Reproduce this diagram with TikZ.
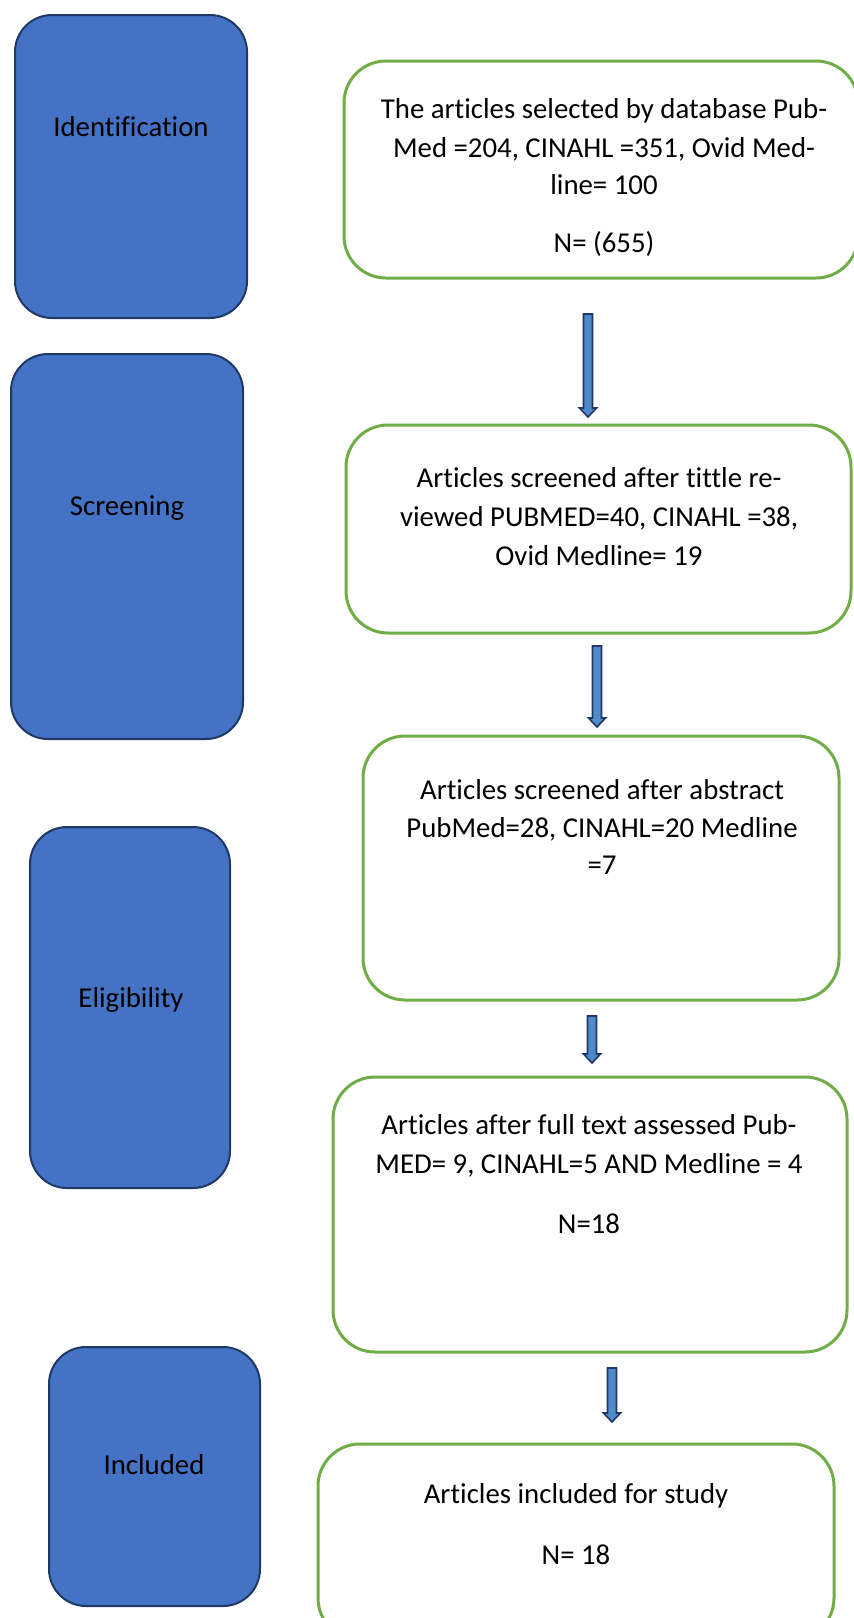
\documentclass[tikz,border=0pt]{standalone}
\usepackage{fontspec}
\setmainfont{Carlito}[Ligatures={CommonOff}]
\usetikzlibrary{calc}
\definecolor{phasefill}{HTML}{4472C4}
\definecolor{phaseline}{HTML}{203864}
\definecolor{boxgreen}{HTML}{70AD47}
\definecolor{arrowfill}{HTML}{4F8ACB}
\definecolor{arrowline}{HTML}{203864}
\tikzset{
  phasebox/.style={draw=phaseline, fill=phasefill, line width=2pt, rounded corners=37pt},
  stagebox/.style={draw=boxgreen, fill=white, line width=3pt, rounded corners=42pt},
  txt/.style={font=\fontsize{28.8}{38.5}\selectfont, inner sep=0pt, text height=18.6pt, text depth=0pt, anchor=center, text=black},
  arrowsty/.style={draw=arrowline, fill=arrowfill, line width=1.6pt, line join=miter}
}
\newcommand{\myblockarrow}[2]{%
  \draw[arrowsty] ($(#1)+(-4.5,0)$) -- ($(#2)+(-4.5,-9)$) -- ($(#2)+(-8.5,-9)$) -- (#2) -- ($(#2)+(8.5,-9)$) -- ($(#2)+(4.5,-9)$) -- ($(#1)+(4.5,0)$) -- cycle;}
\begin{document}
\begin{tikzpicture}[x=1pt,y=-1pt]
\useasboundingbox (0,0) rectangle (854,1618);
\clip (0,0) rectangle (854,1618);
\fill[white] (0,0) rectangle (854,1618);

% phase boxes
\draw[phasebox] (15,15) rectangle (247,318);
\draw[phasebox] (11,354) rectangle (243,739);
\draw[phasebox] (30,827) rectangle (230,1188);
\draw[phasebox] (49,1347) rectangle (260,1606);

\node[txt] (t1) at (131,127) {Identification};
\node[txt] (t2) at (127,506) {Screening};
\node[txt] (t3) at (131,998) {Eligibility};
\node[txt] (t4) at (154,1465) {Included};

% stage boxes
\draw[stagebox] (344,61) rectangle (858,278);
\draw[stagebox] (346,425) rectangle (851,633);
\draw[stagebox] (363,736) rectangle (839,1000);
\draw[stagebox] (333,1077) rectangle (847,1352);
\draw[stagebox] (318,1444) rectangle (834,1640);

% stage texts
\node[txt] (g1a) at (604,109) {The articles selected by database Pub-};
\node[txt] (g1b) at (604,148) {Med =204, CINAHL =351, Ovid Med-};
\node[txt] (g1c) at (604,185) {line= 100};
\node[txt] (g1d) at (604,243) {N= (655)};

\node[txt] (g2a) at (599,478) {Articles screened after tittle re-};
\node[txt] (g2b) at (599,517) {viewed PUBMED=40, CINAHL =38,};
\node[txt] (g2c) at (599,556) {Ovid Medline= 19};

\node[txt] (g3a) at (602,790) {Articles screened after abstract};
\node[txt] (g3b) at (602,828) {PubMed=28, CINAHL=20 Medline};
\node[txt] (g3c) at (602,865) {=7};

\node[txt] (g4a) at (589,1125) {Articles after full text assessed Pub-};
\node[txt] (g4b) at (589,1164) {MED= 9, CINAHL=5 AND Medline = 4};
\node[txt] (g4c) at (589,1224) {N=18};

\node[txt] (g5a) at (576,1494) {Articles included for study};
\node[txt] (g5b) at (576,1555) {N= 18};

% arrows
\coordinate (a1s) at (588,314);  \coordinate (a1e) at (588,417);
\coordinate (a2s) at (597,646);  \coordinate (a2e) at (597,727);
\coordinate (a3s) at (592,1016); \coordinate (a3e) at (592,1063);
\coordinate (a4s) at (612,1368); \coordinate (a4e) at (612,1422);
\myblockarrow{a1s}{a1e}
\myblockarrow{a2s}{a2e}
\myblockarrow{a3s}{a3e}
\myblockarrow{a4s}{a4e}
\end{tikzpicture}
\end{document}
